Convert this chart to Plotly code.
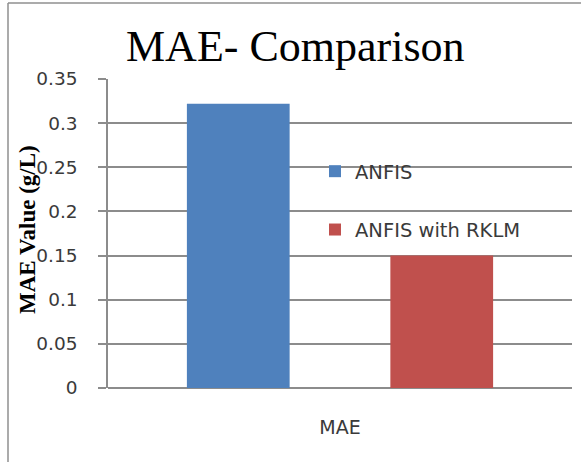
import plotly.graph_objects as go

# Chart data
categories = ["MAE"]
series_names = ["ANFIS", "ANFIS with RKLM"]
series_values = [[0.322], [0.15]]
series_colors = ["#4F81BD", "#C0504D"]
y_tick_values = [0, 0.05, 0.1, 0.15, 0.2, 0.25, 0.3, 0.35]
y_tick_labels = ["0", "0.05", "0.1", "0.15", "0.2", "0.25", "0.3", "0.35"]

W, H = 581, 462
ML, MR, MT, MB = 108, 9, 79, 74
PW = W - ML - MR
PH = H - MT - MB

GRID = "#8c8c8c"
TEXT = "#3a3a3a"
SANS = "DejaVu Sans, sans-serif"
SERIF = "Liberation Serif, Times New Roman, serif"

fig = go.Figure()
for i, (name, vals, col) in enumerate(zip(series_names, series_values, series_colors)):
    fig.add_trace(go.Bar(
        x=categories, y=vals, name=name,
        marker=dict(color=col, line=dict(width=0)),
        legendgroup=f"g{i}",
    ))

def px_x(x):
    return (x - ML) / PW

def px_y(y):
    return (H - MB - y) / PH

fig.update_layout(
    width=W, height=H,
    margin=dict(l=ML, r=MR, t=MT, b=MB),
    paper_bgcolor="white", plot_bgcolor="white",
    barmode="group", bargap=0.123, bargroupgap=0.495,
    showlegend=True,
    legend=dict(
        x=px_x(315), y=px_y(152), xanchor="left", yanchor="top",
        bgcolor="rgba(0,0,0,0)", borderwidth=0,
        font=dict(family=SANS, size=19.5, color=TEXT),
        traceorder="grouped", tracegroupgap=30,
    ),
    xaxis=dict(
        showgrid=False, showline=False, zeroline=False,
        ticks="", tickfont=dict(family=SANS, size=19, color=TEXT),
        ticklabelstandoff=26,
    ),
    yaxis=dict(
        range=[0, 0.35], tickvals=y_tick_values, ticktext=y_tick_labels,
        showgrid=True, gridcolor=GRID, gridwidth=1.5,
        showline=True, linecolor=GRID, linewidth=1.5,
        zeroline=True, zerolinecolor=GRID, zerolinewidth=1.5,
        ticks="outside", ticklen=8, tickcolor=GRID, tickwidth=1.5,
        tickfont=dict(family=SANS, size=18.5, color=TEXT),
        ticklabelstandoff=17,
    ),
    font=dict(family=SANS, color=TEXT),
)

# Chart title
fig.add_annotation(
    text="MAE- Comparison", xref="paper", yref="paper",
    x=px_x(295.5), y=px_y(47), xanchor="center", yanchor="middle",
    showarrow=False, font=dict(family=SERIF, size=44, color="#000000"),
)

# Y axis title
fig.add_annotation(
    text="<b>MAE Value (g/L)</b>", xref="paper", yref="paper",
    x=px_x(27), y=px_y(230), xanchor="center", yanchor="middle",
    textangle=-90, showarrow=False,
    font=dict(family=SERIF, size=23, color="#000000"),
)

# Chart frame: top and left edges
frame = dict(color="#8f8f8f", width=1.5)
fig.add_shape(type="line", xref="paper", yref="paper",
              x0=px_x(8), x1=px_x(W + 20), y0=px_y(3), y1=px_y(3),
              line=frame, layer="below")
fig.add_shape(type="line", xref="paper", yref="paper",
              x0=px_x(8), x1=px_x(8), y0=px_y(3), y1=px_y(H + 20),
              line=frame, layer="below")

fig.write_html("out.html")
